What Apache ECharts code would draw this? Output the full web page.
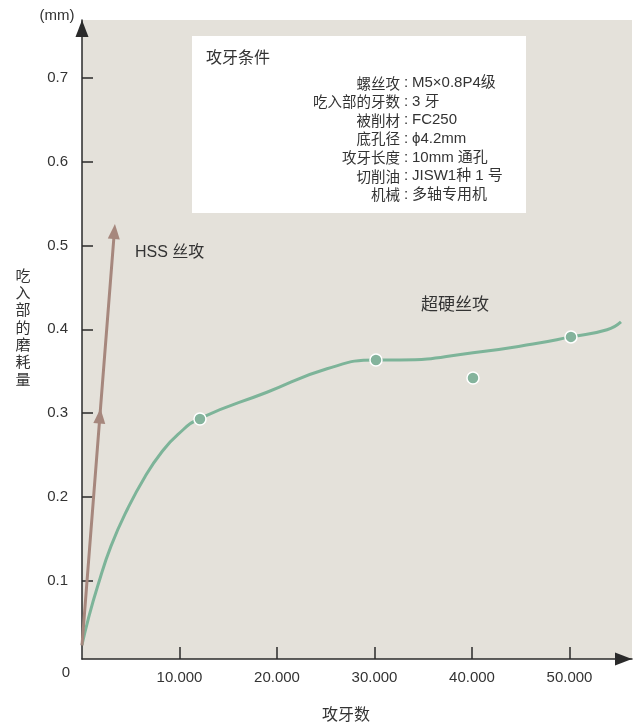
<!DOCTYPE html>
<html>
<head>
<meta charset="utf-8">
<script src="https://cdn.jsdelivr.net/npm/echarts@6/dist/echarts.min.js"></script>
<style>
  html, body { margin: 0; padding: 0; background: #fff; }
  #chart { width: 638px; height: 727px; }
</style>
</head>
<body>
<div id="chart"></div>
<script>
const AXIS = "#2a2a2a";
const TEXT = "#333333";
const BG = "#e4e1da";
const GREEN = "#7db499";
const DOT = "#84b39c";
const BROWN = "#a6877d";
const LATIN = "'Liberation Sans', Arial, 'Noto Sans CJK SC', sans-serif";
const CJK = "'Noto Sans CJK SC', 'Liberation Sans', sans-serif";

// axis ticks
const xTicks = [10000, 20000, 30000, 40000, 50000];
const yTicks = [0.1, 0.2, 0.3, 0.4, 0.5, 0.6, 0.7];

// carbide tap: smooth wear curve and measured points
const carbideCurve = [
  [0, 0.0235], [615, 0.0533], [1641, 0.095], [2974, 0.1414], [4718, 0.1869],
  [6462, 0.2243], [8103, 0.2525], [9846, 0.2747], [12103, 0.2938], [18970, 0.325],
  [25130, 0.353], [30150, 0.3635], [32600, 0.3635], [40100, 0.372], [46260, 0.3825],
  [50150, 0.391], [53850, 0.3995], [55280, 0.409],
];
const carbidePoints = [[12100, 0.293], [30150, 0.3635], [40100, 0.342], [50150, 0.391]];

// HSS tap: steep line with arrow heads
const hssLine = [[0, 0.023], [1835, 0.2966], [3320, 0.5168]];
const hssArrows = [false, true, true];

// test conditions box
const condTitle = "攻牙条件";
const condLabels = ["螺丝攻", "吃入部的牙数", "被削材", "底孔径", "攻牙长度", "切削油", "机械"];
const condValues = ["M5×0.8P4级", "3 牙", "FC250", "ϕ4.2mm", "10mm 通孔", "JISW1种 1 号", "多轴专用机"];

const yTitle = "吃入部的磨耗量";
const xTitle = "攻牙数";

const chart = echarts.init(document.getElementById("chart"), null, { renderer: "canvas" });

function fmtX(v) {
  return (v / 1000).toFixed(3);
}

const condGraphics = [];
condLabels.forEach((label, i) => {
  const y = 83 + i * 18.6;
  condGraphics.push(
    { type: "text", x: 400, y, style: { text: label, fill: TEXT, font: `14.5px ${CJK}`, align: "right", verticalAlign: "middle" } },
    { type: "text", x: 406, y, style: { text: ":", fill: TEXT, font: `15px ${LATIN}`, align: "center", verticalAlign: "middle" } },
    { type: "text", x: 412, y, style: { text: condValues[i], fill: TEXT, font: `15px ${LATIN}`, align: "left", verticalAlign: "middle" } },
  );
});

const axisLine = {
  onZero: false,
  lineStyle: { color: AXIS, width: 1.5 },
  symbol: ["none", "triangle"],
  symbolSize: [13, 17],
  symbolOffset: [0, -8.5],
};

chart.setOption({
  animation: false,
  grid: {
    left: 82, right: 6, top: 20, bottom: 68,
    show: true, backgroundColor: BG, borderWidth: 0,
  },
  xAxis: {
    type: "value",
    min: 0,
    max: 56410,
    splitLine: { show: false },
    axisLine,
    axisTick: { inside: true, length: 12, lineStyle: { color: AXIS, width: 1.5 }, customValues: xTicks },
    axisLabel: {
      customValues: xTicks, formatter: fmtX, margin: 11,
      color: TEXT, fontFamily: LATIN, fontSize: 15,
    },
  },
  yAxis: {
    type: "value",
    min: 0.0068,
    max: 0.769,
    splitLine: { show: false },
    axisLine,
    axisTick: { inside: true, length: 11, lineStyle: { color: AXIS, width: 1.5 }, customValues: yTicks },
    axisLabel: {
      customValues: yTicks, formatter: (v) => v.toFixed(1), margin: 14,
      color: TEXT, fontFamily: LATIN, fontSize: 15,
    },
  },
  series: [
    {
      name: "超硬丝攻",
      type: "line",
      data: carbideCurve,
      smooth: 0.5,
      symbol: "none",
      lineStyle: { color: GREEN, width: 3 },
      z: 3,
    },
    {
      name: "超硬丝攻点",
      type: "scatter",
      data: carbidePoints,
      symbolSize: 12,
      itemStyle: { color: DOT, borderColor: "#ffffff", borderWidth: 1.5, opacity: 1 },
      z: 4,
    },
    {
      name: "HSS丝攻",
      type: "line",
      data: hssLine.map((p, i) => ({
        value: p,
        symbol: hssArrows[i] ? "triangle" : "none",
      })),
      symbolSize: [12, 15],
      symbolRotate: -4.5,
      showSymbol: true,
      lineStyle: { color: BROWN, width: 3 },
      itemStyle: { color: BROWN, borderWidth: 0 },
      z: 5,
    },
  ],
  graphic: [
    { type: "text", x: 57, y: 16, style: { text: "(mm)", fill: TEXT, font: `15px ${LATIN}`, align: "center", verticalAlign: "middle" } },
    { type: "text", x: 66, y: 673, style: { text: "0", fill: TEXT, font: `15px ${LATIN}`, align: "center", verticalAlign: "middle" } },
    {
      type: "text", x: 23, y: 327,
      style: { text: yTitle.split("").join("\n"), fill: TEXT, font: `15px ${CJK}`, lineHeight: 17.3, align: "center", verticalAlign: "middle" },
    },
    { type: "text", x: 346, y: 714, style: { text: xTitle, fill: TEXT, font: `16px ${CJK}`, align: "center", verticalAlign: "middle" } },
    { type: "text", x: 135, y: 253, style: { text: "HSS 丝攻", fill: TEXT, font: `16px ${LATIN}`, align: "left", verticalAlign: "middle" } },
    { type: "text", x: 421, y: 304, style: { text: "超硬丝攻", fill: TEXT, font: `17px ${CJK}`, align: "left", verticalAlign: "middle" } },
    { type: "rect", shape: { x: 192, y: 36, width: 334, height: 177 }, style: { fill: "#ffffff" }, z: 1 },
    { type: "text", x: 206, y: 57, style: { text: condTitle, fill: TEXT, font: `16px ${CJK}`, align: "left", verticalAlign: "middle" }, z: 2 },
    ...condGraphics.map((g) => ({ ...g, z: 2 })),
  ],
});
</script>
</body>
</html>
